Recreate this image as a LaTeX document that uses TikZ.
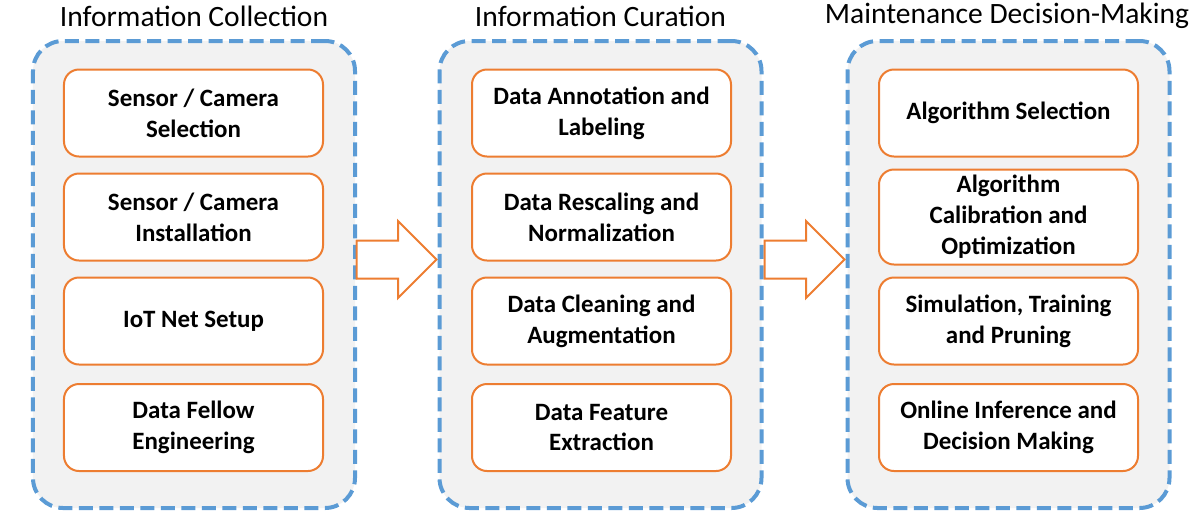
\documentclass[tikz,border=0pt]{standalone}
\usepackage{fontspec}
\setmainfont{Carlito}
\usetikzlibrary{calc,positioning}
\usetikzlibrary{shapes,arrows}

\definecolor{stageblue}{RGB}{91,155,213}
\definecolor{steporange}{RGB}{237,125,49}
\definecolor{stagegray}{RGB}{242,242,242}

\begin{document}
\begin{tikzpicture}[x=0.2mm,y=-0.2mm,
  stage/.style={draw=stageblue,fill=stagegray,line width=0.8mm,
    dash pattern=on 2.8mm off 1.3mm,rounded corners=6mm,
    minimum width=64.4mm,minimum height=93.4mm},
  stepbox/.style={draw=steporange,fill=white,line width=0.4mm,rounded corners=3mm,
    minimum width=51.8mm,minimum height=17.4mm,align=center,
    font=\bfseries\fontsize{14.2}{17.6}\selectfont},
  title/.style={font=\fontsize{16.8}{20}\selectfont},
  flow/.style={single arrow,draw=steporange,fill=white,line width=0.4mm,
    inner xsep=0,inner ysep=3.6mm,minimum height=16mm,
    single arrow head extend=3.9mm}]
\useasboundingbox (0,0) rectangle (1196,527);

% three stages
\node [stage] (c1) at (194,274.5) {};
\node [stage] (c2) at (600.5,274.5) {};
\node [stage] (c3) at (1008.5,274.5) {};

\node [title] (t1) at (194,16) {Information Collection};
\node [title] (t2) at (600.5,16) {Information Curation};
\node [title] (t3) at (1007,16) {Maintenance Decision-Making};

% steps
\node [stepbox] (b11) at (193.5,113) {Sensor / Camera\\Selection};
\node [stepbox] (b12) at (193.5,217) {Sensor / Camera\\Installation};
\node [stepbox] (b13) at (193.5,321) {IoT Net Setup};
\node [stepbox] (b14) at (193.5,427.5) {Data Fellow\\Engineering};

\node [stepbox] (b21) at (601.5,113) {Data Annotation and\\Labeling};
\node [stepbox] (b22) at (601.5,217) {Data Rescaling and\\Normalization};
\node [stepbox] (b23) at (601.5,321) {Data Cleaning and\\Augmentation};
\node [stepbox] (b24) at (601.5,427.5) {Data Feature\\Extraction};

\node [stepbox] (b31) at (1008.5,113) {Algorithm Selection};
\node [stepbox] (b32) at (1008.5,217) {Algorithm\\Calibration and\\Optimization};
\node [stepbox] (b33) at (1008.5,321) {Simulation, Training\\and Pruning};
\node [stepbox] (b34) at (1008.5,427.5) {Online Inference and\\Decision Making};

% block arrows between stages
\node [flow] (a1) at (387,259.5) {};
\node [flow] (a2) at (795,259.5) {};
\end{tikzpicture}
\end{document}
